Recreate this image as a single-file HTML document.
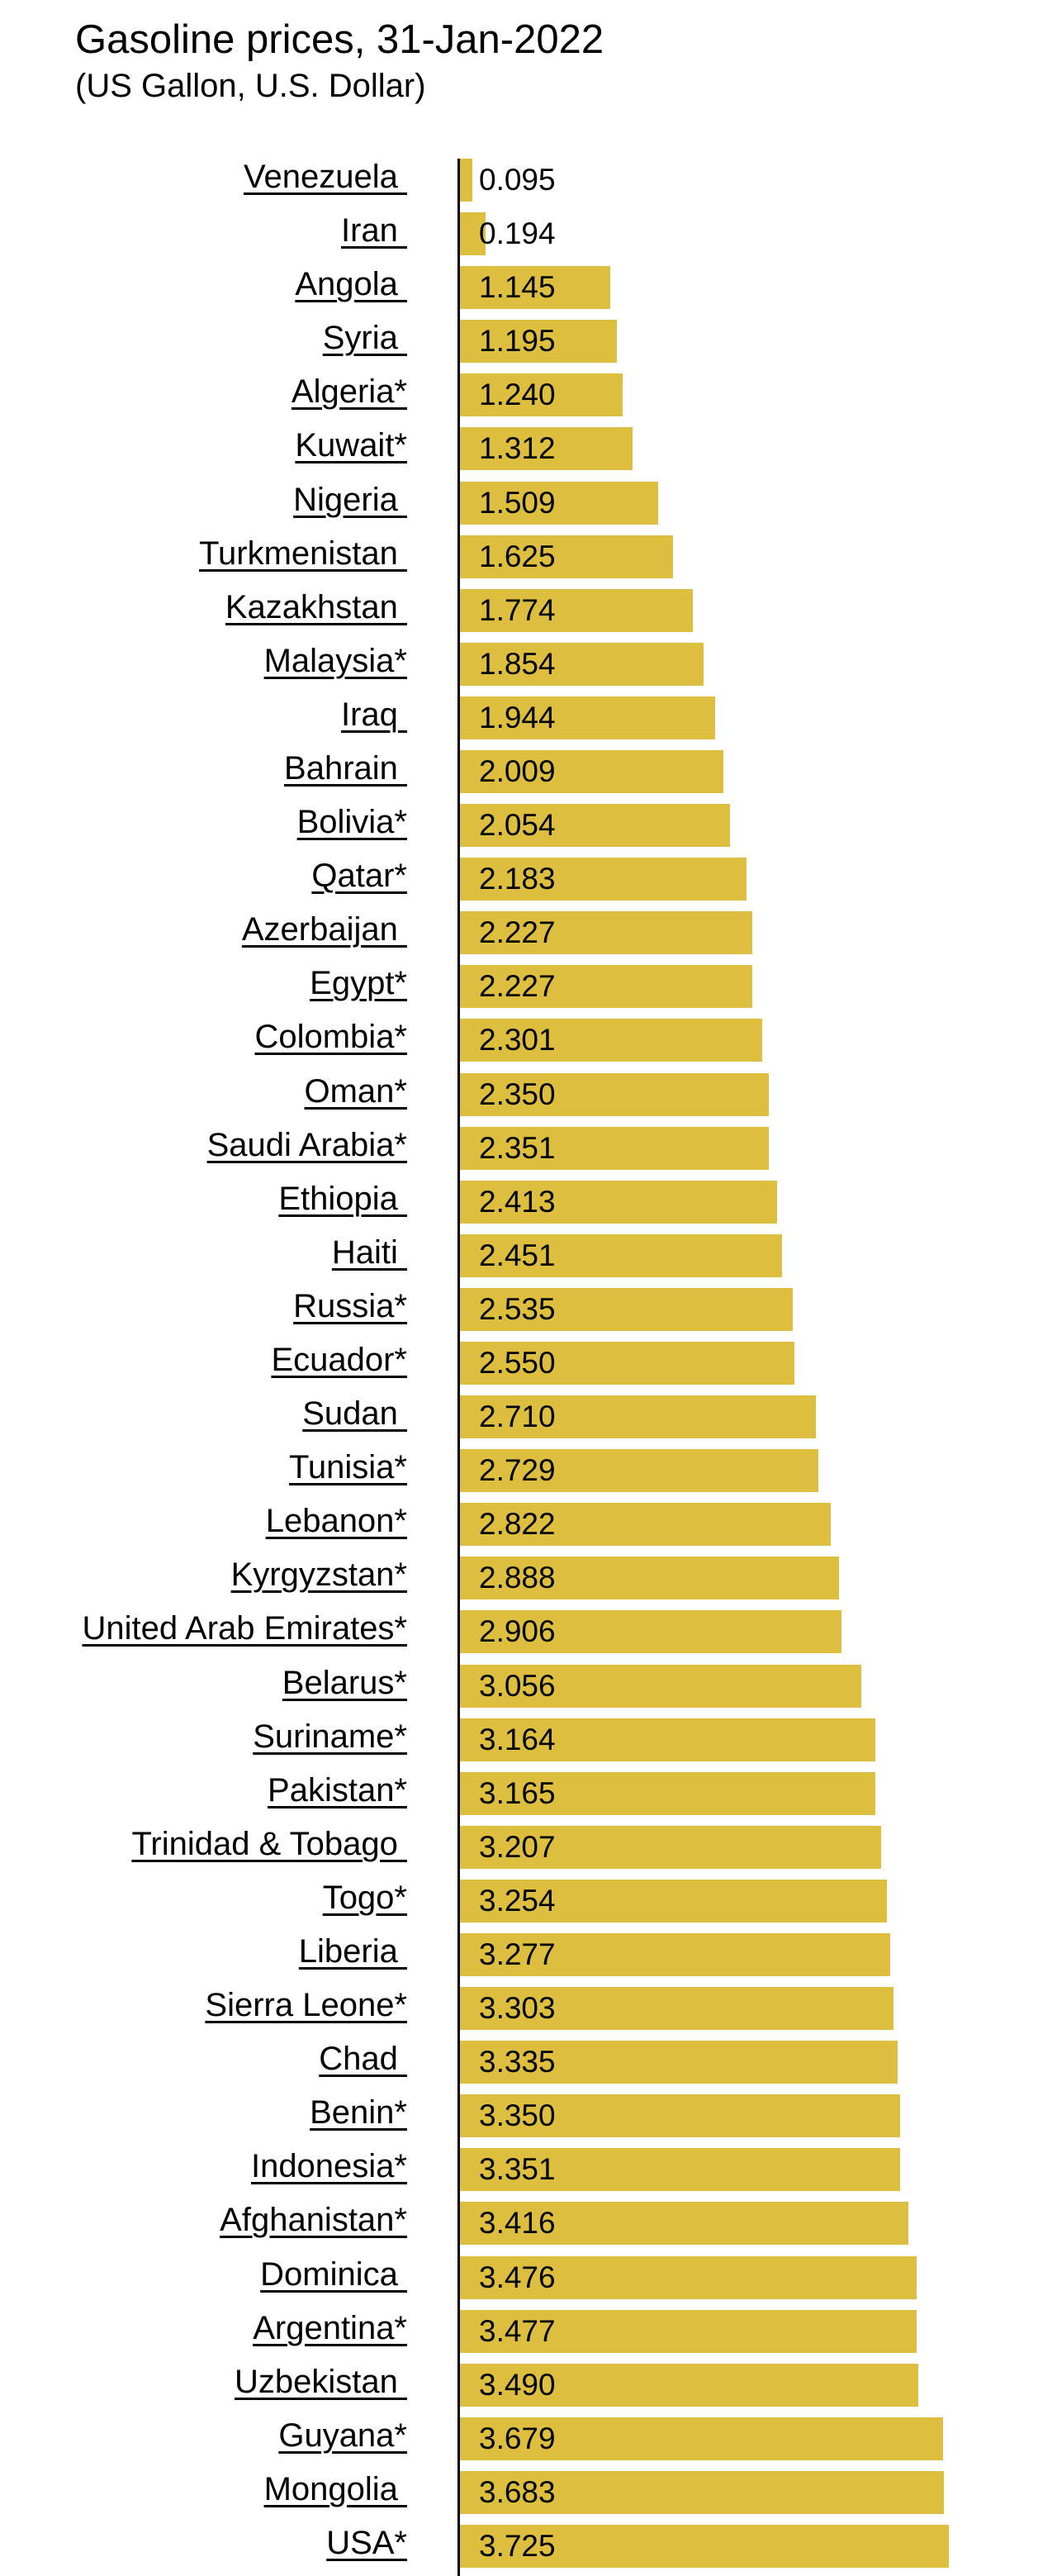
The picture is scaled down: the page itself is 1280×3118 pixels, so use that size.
<!DOCTYPE html>
<html><head><meta charset="utf-8"><style>
body{margin:0;width:1280px;height:3118px;background:#fff;position:relative;overflow:hidden;font-family:"Liberation Sans",Arial,sans-serif;color:#000}
.t{position:absolute;left:91px;top:20px;font-size:49px;white-space:nowrap}
.s{position:absolute;left:91px;top:82px;font-size:40px;white-space:nowrap}
.ax{position:absolute;left:554px;top:192px;width:3px;height:2926px;background:#000}
.r{position:absolute;left:0;width:1280px;height:52px}
.l{position:absolute;right:787px;top:-4px;font-size:40px;line-height:52px;white-space:pre;text-decoration:underline;text-decoration-thickness:2.5px;text-underline-offset:6px}
.b{position:absolute;left:557px;top:0;height:52px;background:#ddbe3f}
.v{position:absolute;left:580px;top:0;font-size:37px;line-height:52px}
</style></head><body>
<div class="t">Gasoline prices, 31-Jan-2022</div>
<div class="s">(US Gallon, U.S. Dollar)</div>
<div id="c"></div>
<div class="ax"></div>
<script>
var d=[["Venezuela ",0.095],["Iran ",0.194],["Angola ",1.145],["Syria ",1.195],["Algeria*",1.240],["Kuwait*",1.312],["Nigeria ",1.509],["Turkmenistan ",1.625],["Kazakhstan ",1.774],["Malaysia*",1.854],["Iraq ",1.944],["Bahrain ",2.009],["Bolivia*",2.054],["Qatar*",2.183],["Azerbaijan ",2.227],["Egypt*",2.227],["Colombia*",2.301],["Oman*",2.350],["Saudi Arabia*",2.351],["Ethiopia ",2.413],["Haiti ",2.451],["Russia*",2.535],["Ecuador*",2.550],["Sudan ",2.710],["Tunisia*",2.729],["Lebanon*",2.822],["Kyrgyzstan*",2.888],["United Arab Emirates*",2.906],["Belarus*",3.056],["Suriname*",3.164],["Pakistan*",3.165],["Trinidad & Tobago ",3.207],["Togo*",3.254],["Liberia ",3.277],["Sierra Leone*",3.303],["Chad ",3.335],["Benin*",3.350],["Indonesia*",3.351],["Afghanistan*",3.416],["Dominica ",3.476],["Argentina*",3.477],["Uzbekistan ",3.490],["Guyana*",3.679],["Mongolia ",3.683],["USA*",3.725]];
var h="";
d.forEach(function(x,i){var top=Math.round(218+65.09*i-26);
h+='<div class="r" style="top:'+top+'px"><div class="b" style="width:'+Math.round(x[1]*159)+'px"></div><div class="l">'+x[0].replace("&","&amp;")+'</div><div class="v">'+x[1].toFixed(3)+'</div></div>';});
document.getElementById("c").innerHTML=h;
</script>
</body></html>
